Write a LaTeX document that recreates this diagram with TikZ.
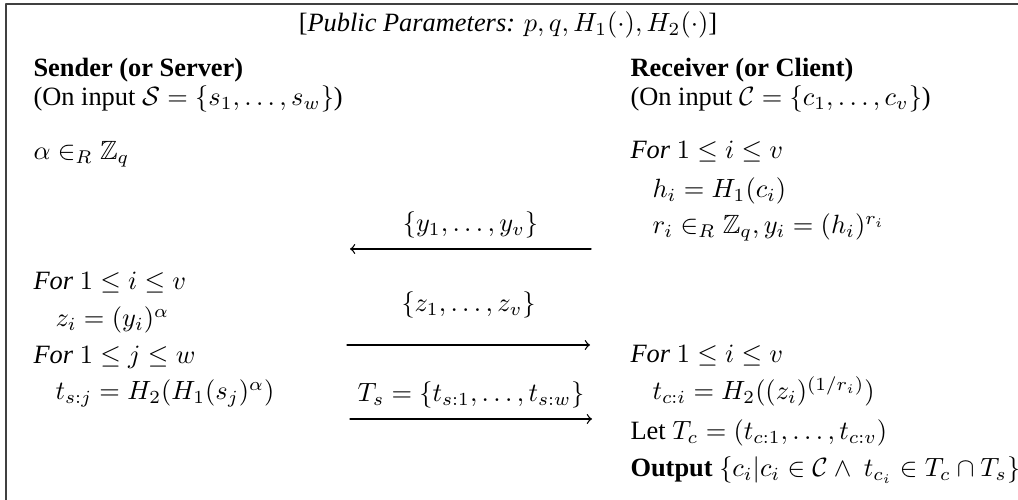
\documentclass[tikz,border=0pt]{standalone}
\usepackage{amsmath,amssymb}
\usepackage[no-math]{fontspec}
\setmainfont{Liberation Serif}
\begin{document}
\begin{tikzpicture}[x=0.3788pt,y=-0.3788pt,line cap=round,line join=round,
  txt/.style={anchor=base west,inner sep=0pt},
  msg/.style={->,line width=0.5pt},
  lbl/.style={above=4pt,inner sep=0pt}]
  \useasboundingbox (0,0) rectangle (1018,500);
  \coordinate (TL) at (6,4);
  \coordinate (TR) at (1018,4);
  \coordinate (BL) at (6,500);
  \coordinate (yR) at (591,249);
  \coordinate (yL) at (350,249);
  \coordinate (zL) at (347,345);
  \coordinate (zR) at (590,345);
  \coordinate (tL) at (350,419);
  \coordinate (tR) at (592,419);
  \draw[line width=0.6pt,black!75] (BL) -- (TL) -- (TR);
  \node[anchor=base,inner sep=0pt] (params) at (508,32)
    {[\textit{Public Parameters:} $p,q,H_1(\cdot),H_2(\cdot)$]};
  % sender side
  \node[txt] (sndHead) at (33,77) {\textbf{Sender (or Server)}};
  \node[txt] (sndInput) at (33,106) {(On input $\mathcal{S}=\{s_1,\ldots,s_w\}$)};
  \node[txt] (sndAlpha) at (33,160) {$\alpha\in_R\mathbb{Z}_q$};
  \node[txt] (sndFor) at (33,290) {\textit{For} $1\le i\le v$};
  \node[txt] (sndZ) at (55,327) {$z_i=(y_i)^\alpha$};
  \node[txt] (sndForJ) at (33,364) {\textit{For} $1\le j\le w$};
  \node[txt] (sndT) at (55,400) {$t_{s:j}=H_2(H_1(s_j)^\alpha)$};
  % receiver side
  \node[txt] (rcvHead) at (630,77) {\textbf{Receiver (or Client)}};
  \node[txt] (rcvInput) at (630,106) {(On input $\mathcal{C}=\{c_1,\ldots,c_v\}$)};
  \node[txt] (rcvFor) at (630,159) {\textit{For} $1\le i\le v$};
  \node[txt] (rcvH) at (652,198) {$h_i=H_1(c_i)$};
  \node[txt] (rcvR) at (652,234) {$r_i\in_R\mathbb{Z}_q, y_i=(h_i)^{r_i}$};
  \node[txt] (rcvForB) at (630,363) {\textit{For} $1\le i\le v$};
  \node[txt] (rcvT) at (652,400) {$t_{c:i}=H_2((z_i)^{(1/r_i)})$};
  \node[txt] (rcvLet) at (630,440) {Let $T_c=(t_{c:1},\ldots,t_{c:v})$};
  \node[txt] (rcvOut) at (630,477)
    {\textbf{Output} $\{c_i|c_i\in\mathcal{C}\wedge\ t_{c_i}\in T_c\cap T_s\}$};
  % messages
  \draw[msg] (yR) -- node[lbl] (yMsg) {$\{y_1,\ldots,y_v\}$} (yL);
  \draw[msg] (zL) -- node[lbl,above=6pt] (zMsg) {$\{z_1,\ldots,z_v\}$} (zR);
  \draw[msg] (tL) -- node[lbl] (tMsg) {$T_s=\{t_{s:1},\ldots,t_{s:w}\}$} (tR);
\end{tikzpicture}
\end{document}
